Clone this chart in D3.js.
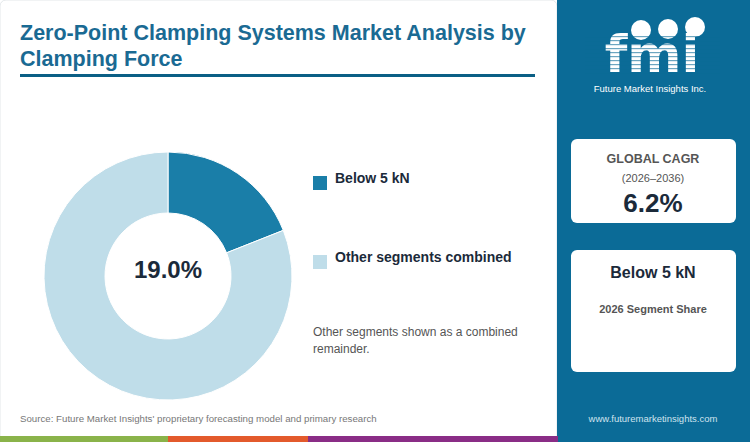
<!DOCTYPE html>
<html><head><meta charset="utf-8">
<script src="https://cdn.jsdelivr.net/npm/d3@7"></script>
<style>body{margin:0;background:#fff}svg{display:block;font-family:"Liberation Sans",Arial,sans-serif}</style>
</head><body>
<script>
const segments = ["Below 5 kN", "Other segments combined"];
const shares = [19.0, 81.0];
const colors = ["#1a7ea8", "#bfdde9"];
const cagr = "6.2%";
const cagrPeriod = "(2026\u20132036)";

const svg = d3.select("body").append("svg").attr("width", 750).attr("height", 442);

svg.append("rect").attr("x", 0).attr("y", 0).attr("width", 557).attr("height", 442)
  .attr("fill", "#fff").attr("stroke", "#e3e7ea").attr("rx", 6);
svg.append("rect").attr("x", 557).attr("y", 0).attr("width", 193).attr("height", 442).attr("fill", "#0b6b97");

// title
svg.append("text").attr("x", 20).attr("y", 40).attr("font-size", 21.5).attr("font-weight", "bold")
  .attr("fill", "#1a6a93").text("Zero-Point Clamping Systems Market Analysis by");
svg.append("text").attr("x", 20).attr("y", 66).attr("font-size", 21.5).attr("font-weight", "bold")
  .attr("fill", "#1a6a93").text("Clamping Force");
svg.append("rect").attr("x", 20).attr("y", 74).attr("width", 515).attr("height", 3).attr("fill", "#0b5f85");

// donut
const pie = d3.pie().sort(null).value(d => d)(shares);
const arc = d3.arc().innerRadius(63).outerRadius(124);
const g = svg.append("g").attr("transform", "translate(168,276)");
g.selectAll("path").data(pie).enter().append("path")
  .attr("d", arc).attr("fill", (d, i) => colors[i]).attr("stroke", "#fff").attr("stroke-width", 1);
g.append("text").attr("text-anchor", "middle").attr("y", 2).attr("font-size", 24).attr("font-weight", "bold")
  .attr("fill", "#1b2a3a").text(shares[0].toFixed(1) + "%");

// legend
const ly = [182, 261];
segments.forEach((s, i) => {
  svg.append("rect").attr("x", 313).attr("y", ly[i] - 6).attr("width", 14).attr("height", 14).attr("fill", colors[i]);
  svg.append("text").attr("x", 335).attr("y", ly[i] + 1).attr("font-size", 14).attr("font-weight", "bold")
    .attr("fill", "#1b2a3a").text(s);
});
svg.append("text").attr("x", 313).attr("y", 336).attr("font-size", 12).attr("fill", "#555").text("Other segments shown as a combined");
svg.append("text").attr("x", 313).attr("y", 353).attr("font-size", 12).attr("fill", "#555").text("remainder.");

svg.append("text").attr("x", 20).attr("y", 422).attr("font-size", 9.7).attr("fill", "#777")
  .text("Source: Future Market Insights' proprietary forecasting model and primary research");

// bottom bar
[[0, 168, "#8ab34a"], [168, 308, "#e35a2c"], [308, 558, "#8a2d86"]].forEach(b =>
  svg.append("rect").attr("x", b[0]).attr("y", 436).attr("width", b[1] - b[0]).attr("height", 6).attr("fill", b[2]));

// logo
const lg = svg.append("g");
lg.append("text").attr("x", 652).attr("y", 72).attr("text-anchor", "middle").attr("font-size", 52)
  .attr("font-weight", "bold").attr("fill", "#fff").attr("font-family", "DejaVu Sans").text("fmi");
[[641, 30, 10], [668, 29, 10], [695, 27, 10]].forEach(c =>
  lg.append("circle").attr("cx", c[0]).attr("cy", c[1]).attr("r", c[2]).attr("fill", "#fff"));
for (let y = 36; y < 74; y += 4)
  lg.append("rect").attr("x", 585).attr("y", y).attr("width", 135).attr("height", 1.2).attr("fill", "#0b6b97").attr("opacity", 0.6);
lg.append("text").attr("x", 650).attr("y", 92).attr("text-anchor", "middle").attr("font-size", 9.5)
  .attr("fill", "#fff").text("Future Market Insights Inc.");

// cards
svg.append("rect").attr("x", 571).attr("y", 139).attr("width", 165).attr("height", 84).attr("rx", 6).attr("fill", "#fff");
svg.append("text").attr("x", 653).attr("y", 163).attr("text-anchor", "middle").attr("font-size", 12.5).attr("font-weight", "bold").attr("fill", "#555").text("GLOBAL CAGR");
svg.append("text").attr("x", 653).attr("y", 182).attr("text-anchor", "middle").attr("font-size", 11).attr("fill", "#555").text(cagrPeriod);
svg.append("text").attr("x", 653).attr("y", 212).attr("text-anchor", "middle").attr("font-size", 26).attr("font-weight", "bold").attr("fill", "#1b2a3a").text(cagr);

svg.append("rect").attr("x", 571).attr("y", 250).attr("width", 165).attr("height", 122).attr("rx", 6).attr("fill", "#fff");
svg.append("text").attr("x", 653).attr("y", 278).attr("text-anchor", "middle").attr("font-size", 16).attr("font-weight", "bold").attr("fill", "#1b2a3a").text(segments[0]);
svg.append("text").attr("x", 653).attr("y", 313).attr("text-anchor", "middle").attr("font-size", 11).attr("font-weight", "bold").attr("fill", "#555").text("2026 Segment Share");

svg.append("text").attr("x", 653).attr("y", 422).attr("text-anchor", "middle").attr("font-size", 9.5).attr("fill", "#cfe3ee").text("www.futuremarketinsights.com");
</script>
</body></html>
